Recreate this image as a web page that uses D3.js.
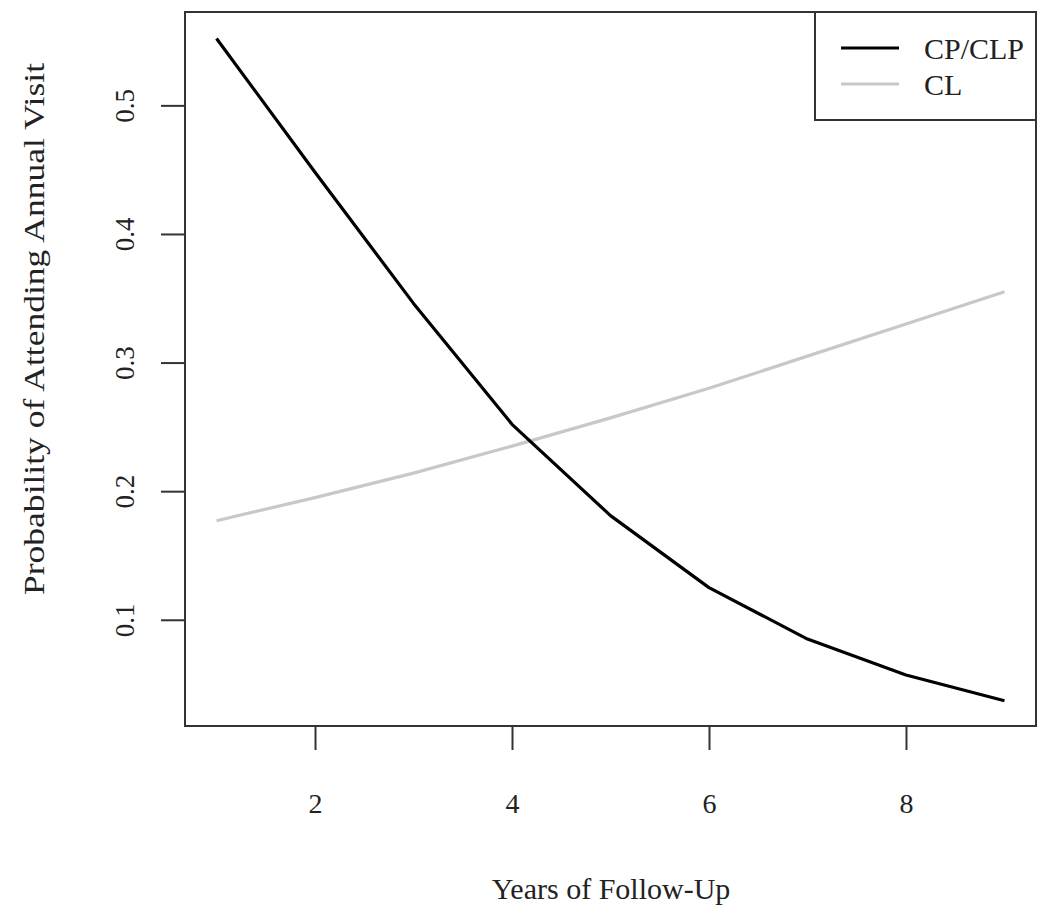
<!DOCTYPE html>
<html>
<head>
<meta charset="utf-8">
<script src="https://cdn.jsdelivr.net/npm/d3@7"></script>
<style>
  body { margin: 0; background: #fff; }
  text { font-family: "Liberation Serif", "Times New Roman", serif; fill: #222; }
</style>
</head>
<body>
<div id="chart"></div>
<script>
// data
const years = [1, 2, 3, 4, 5, 6, 7, 8, 9];
const cpclp = [0.552, 0.448, 0.346, 0.252, 0.181, 0.125, 0.085, 0.057, 0.037];
const cl    = [0.177, 0.195, 0.214, 0.235, 0.257, 0.280, 0.305, 0.330, 0.355];
const seriesNames = ["CP/CLP", "CL"];
const seriesColors = ["#000000", "#c8c8c8"];
const xTicks = [2, 4, 6, 8];
const yTicks = [0.1, 0.2, 0.3, 0.4, 0.5];
const xLabel = "Years of Follow-Up";
const yLabel = "Probability of Attending Annual Visit";

var width = 1050, height = 920;
var plot = {left: 185, right: 1036, top: 12, bottom: 726};

const svg = d3.select("#chart")
  .append("svg")
    .attr("width", width)
    .attr("height", height);

// R style axis extension (4%)
var x = d3.scaleLinear()
  .domain([0.68, 9.32])
  .range([plot.left, plot.right]);
var y = d3.scaleLinear()
  .domain([0.0174, 0.5726])
  .range([plot.bottom, plot.top]);

// x axis
var xAxisG = svg.append("g")
  .attr("transform", `translate(0, ${plot.bottom})`)
  .call(d3.axisBottom(x).tickValues(xTicks).tickSize(24).tickPadding(0).tickFormat(d3.format("d")));
xAxisG.select(".domain").remove();
xAxisG.selectAll(".tick line").attr("stroke", "#333").attr("stroke-width", 2);
xAxisG.selectAll(".tick text")
  .attr("y", 77)
  .attr("dy", "0.35em")
  .style("font-size", "28px")
  .attr("fill", "#222");

// y axis, labels rotated like R
var yAxisG = svg.append("g")
  .attr("transform", `translate(${plot.left}, 0)`)
  .call(d3.axisLeft(y).tickValues(yTicks).tickSize(24).tickFormat(d3.format(".1f")));
yAxisG.select(".domain").remove();
yAxisG.selectAll(".tick line").attr("stroke", "#333").attr("stroke-width", 2);
yAxisG.selectAll(".tick text")
  .attr("x", null)
  .attr("text-anchor", "middle")
  .attr("transform", "translate(-60, 0) rotate(-90)")
  .attr("dy", "0.35em")
  .style("font-size", "27px")
  .attr("fill", "#222");

// frame
svg.append("rect")
  .attr("x", plot.left).attr("y", plot.top)
  .attr("width", plot.right - plot.left)
  .attr("height", plot.bottom - plot.top)
  .attr("fill", "none")
  .attr("stroke", "#333")
  .attr("stroke-width", 2);

// axis titles
svg.append("text")
  .attr("x", 611)
  .attr("y", 888)
  .attr("dy", "0.35em")
  .attr("text-anchor", "middle")
  .style("font-size", "30px")
  .text(xLabel);

svg.append("text")
  .attr("transform", `translate(33, ${(plot.top + plot.bottom) / 2 - 40}) rotate(-90)`)
  .attr("text-anchor", "middle")
  .attr("dy", "0.35em")
  .attr("textLength", 532)
  .attr("lengthAdjust", "spacingAndGlyphs")
  .style("font-size", "30px")
  .text(yLabel);

// lines
var line = d3.line()
  .x(d => x(d.year))
  .y(d => y(d.value));

const series = [cpclp, cl].map((vals, i) => ({
  name: seriesNames[i],
  color: seriesColors[i],
  points: years.map((yr, j) => ({year: yr, value: vals[j]}))
}));

// grey first so black sits on top
svg.selectAll(".series")
  .data(series.slice().reverse())
  .enter()
  .append("path")
    .attr("class", "series")
    .attr("d", d => line(d.points))
    .attr("fill", "none")
    .attr("stroke", d => d.color)
    .attr("stroke-width", 3.2)
    .attr("stroke-linejoin", "round");

// legend
var legend = svg.append("g").attr("transform", "translate(815, 12)");
legend.append("rect")
  .attr("width", plot.right - 815)
  .attr("height", 108)
  .attr("fill", "#fff")
  .attr("stroke", "#333")
  .attr("stroke-width", 2);
var items = legend.selectAll(".item")
  .data(series)
  .enter()
  .append("g")
    .attr("transform", (d, i) => `translate(0, ${36 + i * 36})`);
items.append("line")
  .attr("x1", 26).attr("x2", 84)
  .attr("stroke", d => d.color)
  .attr("stroke-width", 3.2);
items.append("text")
  .attr("x", 109)
  .attr("dy", "0.35em")
  .style("font-size", "30px")
  .text(d => d.name);
</script>
</body>
</html>
